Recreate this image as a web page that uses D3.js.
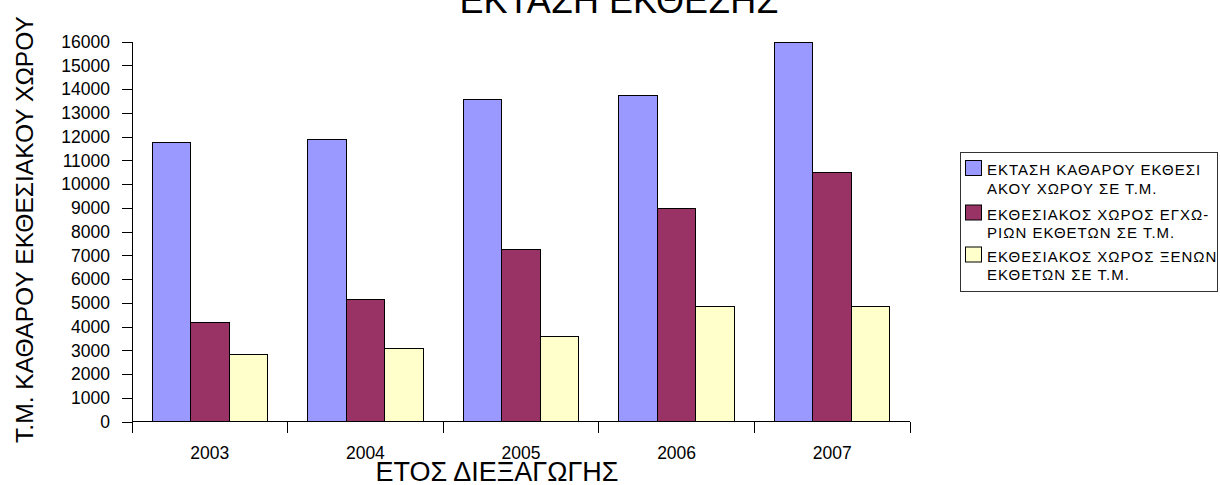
<!DOCTYPE html>
<html>
<head>
<meta charset="utf-8">
<script src="https://cdn.jsdelivr.net/npm/d3@7"></script>
<style>
  body { margin: 0; background: #fff; }
  svg { font-family: Arial, "Liberation Sans", sans-serif; }
  .axis path, .axis line { stroke: #000; shape-rendering: crispEdges; }
  .axis text { font-size: 17.5px; fill: #000; font-family: Arial, "Liberation Sans", sans-serif; }
</style>
</head>
<body>
<svg id="chart" width="1220" height="485"></svg>
<script>
// data
var years = ['2003', '2004', '2005', '2006', '2007'];
var seriesNames = ['area', 'local', 'foreign'];
var areaTotal = [11750, 11900, 13550, 13750, 15950];
var areaLocal = [4180, 5160, 7230, 8980, 10500];
var areaForeign = [2850, 3100, 3600, 4840, 4840];
var seriesColours = ['#9999ff', '#993366', '#ffffcc'];
var legendLines = [
    ['ΕΚΤΑΣΗ ΚΑΘΑΡΟΥ ΕΚΘΕΣΙ', 'ΑΚΟΥ ΧΩΡΟΥ ΣΕ Τ.Μ.'],
    ['ΕΚΘΕΣΙΑΚΟΣ ΧΩΡΟΣ ΕΓΧΩ-', 'ΡΙΩΝ ΕΚΘΕΤΩΝ ΣΕ Τ.Μ.'],
    ['ΕΚΘΕΣΙΑΚΟΣ ΧΩΡΟΣ ΞΕΝΩΝ', 'ΕΚΘΕΤΩΝ ΣΕ Τ.Μ.']
];
var yTicks = d3.range(0, 16001, 1000);

var seriesValues = [areaTotal, areaLocal, areaForeign];
var rows = years.map(function(y, i) {
    return seriesNames.map(function(s, j) {
        return { year: y, key: s, value: seriesValues[j][i], colour: seriesColours[j] };
    });
});

var svg = d3.select('#chart');
var plotLeft = 132, plotRight = 910, plotTop = 41.7, plotBottom = 421.7;

var x0 = d3.scaleBand().domain(years).range([plotLeft, plotRight]).padding(0);
var x1 = d3.scaleBand().domain(seriesNames).range([0, x0.bandwidth()])
    .paddingInner(0).paddingOuter(0.52);
var y = d3.scaleLinear().domain([0, 16000]).range([plotBottom, plotTop]);

// bars
var groups = svg.selectAll('.year')
    .data(rows)
    .enter().append('g')
    .attr('class', 'year')
    .attr('transform', function(d) { return 'translate(' + x0(d[0].year) + ',0)'; });

groups.selectAll('rect')
    .data(function(d) { return d; })
    .enter().append('rect')
    .attr('x', function(d) { return x1(d.key); })
    .attr('y', function(d) { return y(d.value); })
    .attr('width', x1.bandwidth())
    .attr('height', function(d) { return plotBottom - y(d.value); })
    .style('fill', function(d) { return d.colour; })
    .style('stroke', '#000')
    .style('stroke-width', 1)
    .style('shape-rendering', 'crispEdges');

// y axis
svg.append('g')
    .attr('class', 'axis')
    .attr('transform', 'translate(' + plotLeft + ',0)')
    .call(d3.axisLeft(y).tickValues(yTicks).tickFormat(d3.format('d'))
        .tickSize(10).tickPadding(12).tickSizeOuter(0));

// x axis: ticks sit on category boundaries
var xAxis = svg.append('g')
    .attr('class', 'axis')
    .attr('transform', 'translate(0,' + plotBottom + ')');
xAxis.append('line')
    .attr('x1', plotLeft).attr('x2', plotRight)
    .attr('y1', 0).attr('y2', 0);
xAxis.selectAll('.bound')
    .data(years.concat(['end']))
    .enter().append('line')
    .attr('class', 'bound')
    .attr('x1', function(d, i) { return plotLeft + i * x0.step(); })
    .attr('x2', function(d, i) { return plotLeft + i * x0.step(); })
    .attr('y1', 0).attr('y2', 11);
xAxis.selectAll('text')
    .data(years)
    .enter().append('text')
    .attr('x', function(d) { return x0(d) + x0.bandwidth() / 2; })
    .attr('y', 37.5)
    .style('text-anchor', 'middle')
    .text(function(d) { return d; });

// titles
svg.append('text')
    .attr('x', 619).attr('y', 13)
    .style('text-anchor', 'middle')
    .style('font-size', '36px')
    .text('ΕΚΤΑΣΗ ΕΚΘΕΣΗΣ');

svg.append('text')
    .attr('x', 497).attr('y', 481)
    .style('text-anchor', 'middle')
    .style('font-size', '27px')
    .text('ΕΤΟΣ ΔΙΕΞΑΓΩΓΗΣ');

svg.append('text')
    .attr('transform', 'translate(33,229.5) rotate(-90)')
    .style('text-anchor', 'middle')
    .style('font-size', '24.6px')
    .text('Τ.Μ. ΚΑΘΑΡΟΥ ΕΚΘΕΣΙΑΚΟΥ ΧΩΡΟΥ');

// legend
var legend = svg.append('g').attr('class', 'legend');
legend.append('rect')
    .attr('x', 960.5).attr('y', 152.5)
    .attr('width', 257).attr('height', 139)
    .style('fill', '#fff')
    .style('stroke', '#333')
    .style('stroke-width', 1);

var entries = legend.selectAll('.entry')
    .data(legendLines)
    .enter().append('g')
    .attr('class', 'entry')
    .attr('transform', function(d, i) { return 'translate(0,' + [0, 44.5, 86.5][i] + ')'; });

entries.append('rect')
    .attr('x', 965.5).attr('y', 160.5)
    .attr('width', 16).attr('height', 15)
    .style('fill', function(d, i) { return seriesColours[i]; })
    .style('stroke', '#000');

entries.selectAll('text')
    .data(function(d) { return d; })
    .enter().append('text')
    .attr('x', 987)
    .attr('y', function(d, i) { return 175 + i * 18.5; })
    .style('font-size', '15px')
    .style('letter-spacing', '1px')
    .text(function(d) { return d; });
</script>
</body>
</html>
